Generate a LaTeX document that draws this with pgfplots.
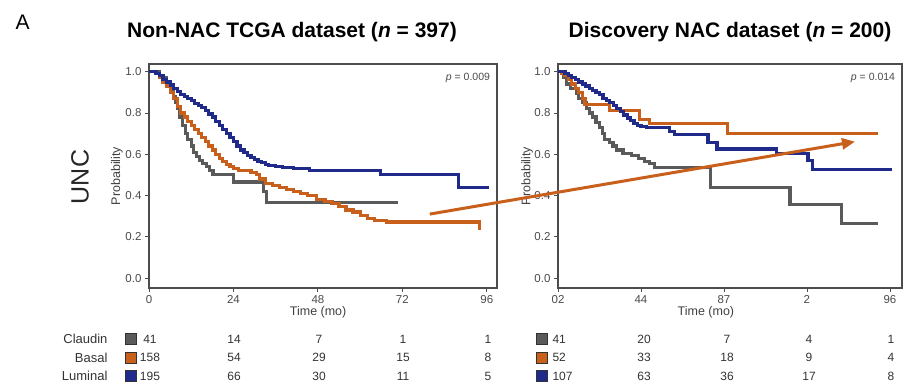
\documentclass[border=0pt]{standalone}
\usepackage{pgfplots}
\pgfplotsset{compat=1.18}
\usepackage{fontspec}
\setmainfont{Liberation Sans}
\usetikzlibrary{arrows.meta}
\definecolor{cgrey}{HTML}{5A5A5A}
\definecolor{corange}{HTML}{C8601C}
\definecolor{cblue}{HTML}{1F2A8A}
\definecolor{ctick}{HTML}{4A4A4A}

\pgfplotsset{kmstyle/.style={
  scale only axis, anchor=south west,
  axis line style={draw=black!70, line width=1.4pt},
  ymin=-0.048, ymax=1.037,
  ytick={0,0.2,0.4,0.6,0.8,1.0},
  yticklabel style={/pgf/number format/fixed, /pgf/number format/precision=1, /pgf/number format/fixed zerofill},
  xtick={0,24,48,72,96},
  tick align=outside, tick pos=left, major tick length=4pt,
  tick style={draw=black!70, line width=0.8pt},
  ticklabel style={font=\fontsize{11.5}{12}\selectfont, text=ctick},
  /pgf/number format/assume math mode=true,
  xlabel={Time (mo)}, ylabel={Probability},
  label style={font=\fontsize{12.5}{13}\selectfont, text=black!75},
  every axis plot/.append style={const plot, line width=3.2pt, no marks, line join=miter},
}}

\begin{document}
\begin{tikzpicture}[x=1pt,y=1pt]
\path[use as bounding box] (0,0) rectangle (906,385);

% ---------- left panel ----------
\begin{axis}[kmstyle, at={(149pt,97pt)}, width=348pt, height=224pt,
  xmin=0, xmax=98.9,
  xlabel style={at={(axis description cs:0.486,0)}, anchor=center, yshift=-24pt},
  ylabel style={at={(axis description cs:-0.092,0.5)}, anchor=center}]
\addplot[cgrey] coordinates {(0,1) (3,0.97) (5,0.94) (6,0.91) (7,0.88) (7.5,0.85) (8,0.82) (8.7,0.78) (9.5,0.74) (10.3,0.70) (11,0.67) (12,0.64) (12.7,0.61) (13.5,0.59) (14.4,0.57) (15.3,0.555) (16.3,0.54) (17.2,0.52) (18.2,0.50) (24,0.465) (32.5,0.42) (33.5,0.366) (70.9,0.366)};
\addplot[corange] coordinates {(0,1) (2,0.99) (3,0.97) (4,0.95) (5,0.93) (6,0.90) (7,0.87) (8,0.83) (9,0.80) (10,0.78) (11,0.76) (12,0.74) (13,0.72) (14,0.70) (15,0.68) (16,0.66) (17,0.64) (18,0.62) (19,0.60) (20,0.58) (21,0.565) (22,0.55) (23,0.54) (24,0.53) (25.5,0.52) (29,0.51) (30.5,0.50) (31.5,0.48) (33,0.46) (35,0.45) (37,0.44) (39,0.43) (41,0.42) (43,0.41) (45,0.40) (47.6,0.38) (50,0.37) (52,0.36) (54,0.345) (56,0.33) (58,0.32) (60,0.305) (62,0.29) (64,0.28) (67.5,0.272) (94,0.272) (94,0.235)};
\addplot[cblue] coordinates {(0,1.0) (2,0.99) (3,0.98) (4,0.96) (5,0.95) (6,0.935) (7,0.92) (8,0.905) (9,0.89) (10,0.88) (11,0.87) (12,0.86) (13,0.845) (14,0.835) (15,0.825) (16,0.81) (17,0.795) (18,0.78) (19,0.76) (20,0.74) (21,0.72) (22,0.70) (23,0.68) (24,0.66) (25,0.64) (26,0.62) (27,0.61) (28,0.595) (29,0.585) (30,0.575) (31,0.565) (32,0.56) (33,0.55) (34,0.545) (36,0.54) (38,0.535) (41,0.53) (45.5,0.52) (65.7,0.50) (88,0.44) (96.5,0.44)};
\node[anchor=north east, font=\fontsize{10.5}{11}\selectfont, text=ctick] at (axis description cs:0.99,0.975) {\textit{p} = 0.009};
\coordinate (arrA) at (axis cs:79.8,0.31);
\end{axis}

% ---------- right panel ----------
\begin{axis}[kmstyle, at={(558pt,97pt)}, width=344pt, height=224pt,
  xmin=0, xmax=99.5,
  xticklabels={02,44,87,2,96},
  xlabel style={at={(axis description cs:0.43,0)}, anchor=center, yshift=-24pt},
  ylabel style={at={(axis description cs:-0.09,0.5)}, anchor=center}]
\addplot[cgrey] coordinates {(0,1) (1.5,0.97) (2.4,0.94) (3.5,0.92) (5.3,0.895) (6,0.87) (7.2,0.85) (8.2,0.82) (9,0.80) (10,0.78) (11,0.755) (12,0.73) (12.8,0.70) (13.5,0.67) (14.8,0.655) (15.9,0.64) (17,0.62) (18.8,0.605) (21.3,0.595) (23.3,0.58) (25.1,0.565) (26.5,0.555) (28,0.535) (44.2,0.44) (67.1,0.355) (82,0.266) (92.6,0.266)};
\addplot[corange] coordinates {(0,1) (1,0.99) (2,0.98) (3,0.96) (4,0.94) (5,0.92) (6,0.90) (7,0.87) (7.8,0.84) (15,0.81) (23.6,0.77) (26.5,0.75) (49,0.70) (92.6,0.70)};
\addplot[cblue] coordinates {(0,1) (2,0.99) (3,0.98) (4,0.97) (5,0.96) (6,0.95) (7,0.94) (8,0.93) (9,0.92) (10,0.91) (11,0.90) (12,0.89) (13,0.87) (14,0.86) (15,0.85) (16,0.835) (17,0.82) (18,0.805) (19,0.79) (20,0.775) (21,0.765) (22,0.75) (23,0.74) (24,0.735) (25.6,0.73) (32.3,0.71) (33.8,0.695) (43.4,0.655) (46,0.625) (63.3,0.605) (72.3,0.57) (73.5,0.525) (96.6,0.525)};
\node[anchor=north east, font=\fontsize{10.5}{11}\selectfont, text=ctick] at (axis description cs:0.99,0.975) {\textit{p} = 0.014};
\coordinate (arrB) at (axis cs:85.9,0.661);
\end{axis}

\draw[corange, line width=3pt, -{Triangle[length=13pt,width=11pt]}] (arrA) -- (arrB);

% ---------- titles and panel labels ----------
\node[anchor=base west, font=\fontsize{21}{24}\selectfont] at (12,355) {A};
\node[font=\bfseries\fontsize{21}{24}\selectfont] at (292,353) {Non-NAC TCGA dataset (\textit{n} = 397)};
\node[font=\bfseries\fontsize{21}{24}\selectfont] at (730,353) {Discovery NAC dataset (\textit{n} = 200)};
\node[rotate=90, font=\fontsize{25}{28}\selectfont, text=black!85] at (80,208) {UNC};

% ---------- numbers at risk ----------
\begin{scope}[every node/.style={font=\fontsize{12}{13}\selectfont, text=black!80}]
\foreach \lab/\col/\yy in {Claudin/cgrey/46, Basal/corange/27.5, Luminal/cblue/9}{
  \node[anchor=east, font=\fontsize{13}{14}\selectfont] at (111,\yy) {\lab};
  \filldraw[fill=\col, draw=black!80, line width=0.6pt] (125,\yy-5.5) rectangle (136,\yy+5.5);
  \filldraw[fill=\col, draw=black!80, line width=0.6pt] (536,\yy-5.5) rectangle (547,\yy+5.5);
}
\foreach \a/\b/\c/\d/\e/\yy in {41/14/7/1/1/46, 158/54/29/15/8/27.5, 195/66/30/11/5/9}{
  \node at (150,\yy) {\a};
  \node at (234,\yy) {\b};
  \node at (319,\yy) {\c};
  \node at (403,\yy) {\d};
  \node at (488,\yy) {\e};
}
\foreach \a/\b/\c/\d/\e/\yy in {41/20/7/4/1/46, 52/33/18/9/4/27.5, 107/63/36/17/8/9}{
  \node[anchor=west] at (549,\yy) {\a};
  \node at (644,\yy) {\b};
  \node at (727,\yy) {\c};
  \node at (809,\yy) {\d};
  \node at (891,\yy) {\e};
}
\end{scope}
\end{tikzpicture}
\end{document}
